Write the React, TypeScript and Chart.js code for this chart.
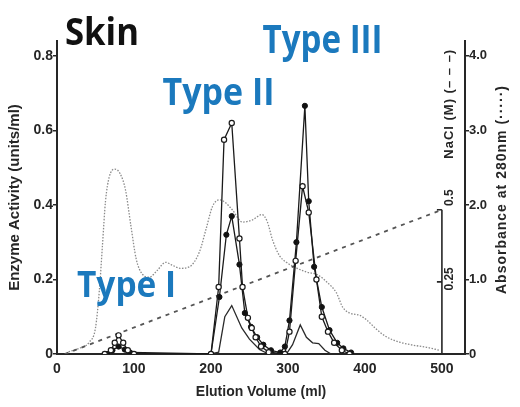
import React, { useEffect, useRef } from "react";
import { Chart, registerables } from "chart.js";

Chart.register(...registerables);

// ---- tick values ----
const xTickValues = [0, 100, 200, 300, 400, 500];
const enzymeTickValues = [0, 0.2, 0.4, 0.6, 0.8];
const absTickValues = [0, 1, 2, 3, 4];
const naclTickValues = [0.25, 0.5];

// ---- series: [elution volume (ml), value] ----
// Absorbance at 280 nm (dotted)
const absorbance280: [number, number][] = [
  [15, 0.03], [30, 0.08], [42, 0.16], [50, 0.35], [55, 0.85], [59, 1.45], [63, 2.05],
  [68, 2.38], [75, 2.48], [82, 2.42], [89, 2.2], [96, 1.72], [103, 1.27], [111, 1.07],
  [120, 1.03], [130, 1.12], [141, 1.23], [150, 1.19], [160, 1.15], [172, 1.17],
  [185, 1.37], [194, 1.69], [202, 1.98], [211, 2.07], [219, 2.03], [228, 1.93],
  [241, 1.77], [254, 1.8], [266, 1.87], [273, 1.78], [280, 1.53], [289, 1.32],
  [298, 1.23], [312, 1.15], [324, 1.1], [339, 1.06], [350, 0.97], [363, 0.82],
  [371, 0.63], [380, 0.55], [393, 0.52], [402, 0.46], [413, 0.35], [428, 0.23],
  [445, 0.16], [462, 0.12], [480, 0.09], [497, 0.05],
];

// NaCl gradient (dashed), M
const naclGradient: [number, number][] = [
  [10, 0], [500, 0.5],
];

// Enzyme activity, open circles (units/ml)
const activityOpen: [number, number][] = [
  [62, 0], [70, 0.01], [75, 0.03], [80, 0.05], [86, 0.03], [92, 0.01], [100, 0],
  [200, 0], [210, 0.18], [217, 0.575], [227, 0.62], [237, 0.31], [241, 0.18],
  [248, 0.097], [253, 0.07], [258, 0.045], [265, 0.02], [275, 0.005],
  [296, 0], [302, 0.06], [310, 0.25], [319, 0.45], [327, 0.38], [337, 0.2],
  [344, 0.1], [352, 0.06], [360, 0.03], [370, 0.01], [380, 0],
];

// Enzyme activity, filled circles (units/ml)
const activityFilled: [number, number][] = [
  [65, 0], [72, 0.01], [80, 0.02], [88, 0.012], [95, 0.004],
  [200, 0], [211, 0.153], [220, 0.32], [227, 0.37], [237, 0.24], [244, 0.11],
  [252, 0.073], [260, 0.045], [268, 0.025], [278, 0.01], [290, 0.004],
  [296, 0.02], [302, 0.09], [311, 0.3], [322, 0.666], [327, 0.41], [334, 0.234],
  [344, 0.126], [354, 0.064], [364, 0.03], [372, 0.015], [382, 0.004],
];

// Enzyme activity, plain line (units/ml)
const activityPlain: [number, number][] = [
  [200, 0], [210, 0.005], [218, 0.1], [227, 0.13], [240, 0.07], [250, 0.04],
  [263, 0.012], [275, 0], [298, 0], [306, 0.025], [316, 0.078], [324, 0.045],
  [332, 0.03], [340, 0.028], [348, 0.01], [356, 0],
];

const typeLabels = ["Type I", "Type II", "Type III"];
const panelTitle = "Skin";

const toXY = (arr: [number, number][]) => arr.map(([x, y]) => ({ x, y }));
const fmt = (v: number) => (v === 0 ? "0" : Number(v).toFixed(1));

const AXIS = "#262626";
const TEXT = "#262626";
const BLUE = "#1b79bd";
const FAMILY = "'Liberation Sans', Arial, sans-serif";

const overlayPlugin = {
  id: "overlay",
  afterDraw(chart: any) {
    const { ctx, scales, chartArea } = chart;
    const x = scales.x;
    const y = scales.y;
    const n = scales.yNaCl;
    ctx.save();

    // NaCl inner axis at 500 ml, 0 .. 0.5 M
    const ax = x.getPixelForValue(500);
    const y0 = n.getPixelForValue(0);
    const y1 = n.getPixelForValue(0.5);
    ctx.strokeStyle = AXIS;
    ctx.lineWidth = 1.6;
    ctx.beginPath();
    ctx.moveTo(ax, y0);
    ctx.lineTo(ax, y1);
    naclTickValues.forEach((v) => {
      const py = n.getPixelForValue(v);
      ctx.moveTo(ax - 5, py);
      ctx.lineTo(ax, py);
    });
    ctx.stroke();

    // NaCl tick labels (rotated)
    ctx.fillStyle = TEXT;
    ctx.font = `bold 12px ${FAMILY}`;
    ctx.textAlign = "center";
    ctx.textBaseline = "middle";
    naclTickValues.forEach((v) => {
      const py = n.getPixelForValue(v) - (v === 0.5 ? 12 : 3);
      ctx.save();
      ctx.translate(ax + 8, py);
      ctx.rotate(-Math.PI / 2);
      ctx.fillText(String(v), 0, 0);
      ctx.restore();
    });

    // Right titles (rotated, reading upward)
    try { (ctx as any).letterSpacing = "1px"; } catch (e) {}
    ctx.save();
    ctx.font = `bold 13px ${FAMILY}`;
    ctx.translate(ax + 8, y1 - 106);
    ctx.rotate(-Math.PI / 2);
    ctx.fillText("NaCl (M) (– – –)", 0, 0);
    ctx.restore();

    ctx.save();
    ctx.font = `bold 14px ${FAMILY}`;
    ctx.translate(chartArea.right + 37, (chartArea.top + chartArea.bottom) / 2 - 8);
    ctx.rotate(-Math.PI / 2);
    ctx.fillText("Absorbance at 280nm (·····)", 0, 0);
    ctx.restore();
    try { (ctx as any).letterSpacing = "0px"; } catch (e) {}

    // Panel title
    ctx.textAlign = "left";
    ctx.textBaseline = "alphabetic";
    ctx.fillStyle = "#111";
    ctx.font = `bold 37px 'Open Sans', 'Noto Sans', sans-serif`;
    ctx.fillText(panelTitle, 65, 45, 74);

    // Peak labels, anchored in data space
    const anchors: { ml: number; act: number; size: number; w: number }[] = [
      { ml: 26, act: 0.153, size: 36, w: 99 },
      { ml: 137, act: 0.668, size: 38, w: 112 },
      { ml: 267, act: 0.808, size: 40, w: 120 },
    ];
    ctx.fillStyle = BLUE;
    typeLabels.forEach((t, i) => {
      const a = anchors[i];
      ctx.font = `bold ${a.size}px 'Open Sans', 'Noto Sans', sans-serif`;
      ctx.fillText(t, x.getPixelForValue(a.ml), y.getPixelForValue(a.act), a.w);
    });

    ctx.restore();
  },
};

export default function App() {
  const ref = useRef<HTMLCanvasElement>(null);

  useEffect(() => {
    if (!ref.current) return;
    const tickFont = { family: FAMILY, size: 14, weight: "bold" as const };
    const chart = new Chart(ref.current, {
      type: "line",
      data: {
        datasets: [
          {
            label: "Activity (open)",
            data: toXY(activityOpen),
            yAxisID: "y",
            borderColor: "#1a1a1a",
            borderWidth: 1.3,
            pointRadius: 2.6,
            pointBorderWidth: 1.2,
            pointBackgroundColor: "#ffffff",
            pointBorderColor: "#1a1a1a",
            tension: 0,
          },
          {
            label: "Activity (filled)",
            data: toXY(activityFilled),
            yAxisID: "y",
            borderColor: "#1a1a1a",
            borderWidth: 1.3,
            pointRadius: 2.6,
            pointBorderWidth: 1,
            pointBackgroundColor: "#111111",
            pointBorderColor: "#111111",
            tension: 0,
          },
          {
            label: "Activity (plain)",
            data: toXY(activityPlain),
            yAxisID: "y",
            borderColor: "#2a2a2a",
            borderWidth: 1.3,
            pointRadius: 0,
            tension: 0,
          },
          {
            label: "NaCl",
            data: toXY(naclGradient),
            yAxisID: "yNaCl",
            borderColor: "#555555",
            borderWidth: 1.8,
            borderDash: [4, 5],
            pointRadius: 0,
            tension: 0,
          },
          {
            label: "A280",
            data: toXY(absorbance280),
            yAxisID: "yAbs",
            borderColor: "#8a8a8a",
            borderWidth: 1.3,
            borderDash: [1.5, 1.5],
            pointRadius: 0,
            cubicInterpolationMode: "monotone",
          },
        ],
      },
      options: {
        responsive: false,
        animation: false,
        layout: { padding: { top: 41, left: 0, right: 0, bottom: 0 } },
        plugins: {
          legend: { display: false },
          tooltip: { enabled: false },
        },
        scales: {
          x: {
            type: "linear",
            min: 0,
            max: 530,
            afterBuildTicks: (s: any) => {
              s.ticks = xTickValues.map((v) => ({ value: v }));
            },
            afterFit: (s: any) => {
              s.height = 53;
            },
            grid: { display: true, drawOnChartArea: false, drawTicks: false },
            border: { display: true, width: 2, color: AXIS },
            ticks: {
              padding: 7,
              color: TEXT,
              font: tickFont,
              maxRotation: 0,
              callback: (v: any) => String(v),
            },
            title: {
              display: true,
              text: "Elution Volume (ml)",
              color: TEXT,
              font: { family: FAMILY, size: 14, weight: "bold" },
              padding: { top: 0, bottom: 6 },
            },
          },
          y: {
            position: "left",
            min: 0,
            max: 0.84,
            afterBuildTicks: (s: any) => {
              s.ticks = enzymeTickValues.map((v) => ({ value: v }));
            },
            afterFit: (s: any) => {
              s.width = 57;
            },
            grid: { drawOnChartArea: false, drawTicks: true, tickLength: 4, color: AXIS, lineWidth: 1.5 },
            border: { display: true, width: 2, color: AXIS },
            ticks: { padding: 0, color: TEXT, font: tickFont, callback: (v: any) => fmt(v) },
            title: {
              display: true,
              text: "Enzyme Activity (units/ml)",
              color: TEXT,
              font: { family: FAMILY, size: 15, weight: "bold" },
              padding: { top: 6, bottom: 0 },
            },
          },
          yAbs: {
            position: "right",
            min: 0,
            max: 4.2,
            afterBuildTicks: (s: any) => {
              s.ticks = absTickValues.map((v) => ({ value: v }));
            },
            afterFit: (s: any) => {
              s.width = 55;
            },
            grid: { drawOnChartArea: false, drawTicks: true, tickLength: 4, color: AXIS, lineWidth: 1.5 },
            border: { display: true, width: 2, color: AXIS },
            ticks: {
              padding: 0,
              color: TEXT,
              font: { family: FAMILY, size: 13, weight: "bold" },
              callback: (v: any) => fmt(v),
            },
          },
          yNaCl: {
            display: false,
            position: "right",
            min: 0,
            max: 1.085,
          },
        },
      } as any,
      plugins: [overlayPlugin],
    });
    return () => chart.destroy();
  }, []);

  return (
    <div style={{ position: "absolute", left: 0, top: 0, width: 520, height: 407, background: "#ffffff" }}>
      <canvas ref={ref} width={520} height={407} style={{ display: "block" }} />
    </div>
  );
}
